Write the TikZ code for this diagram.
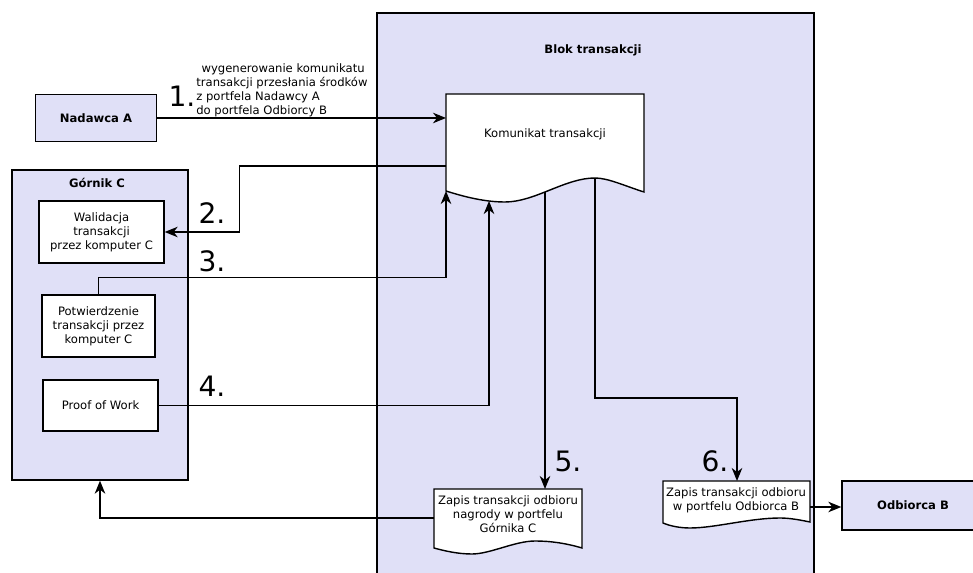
\documentclass[tikz,border=0pt]{standalone}
\usepackage{fontspec}
\setmainfont{DejaVu Sans}
\usepackage{tikz}
\usetikzlibrary{arrows.meta, calc}
\definecolor{lawenda}{RGB}{224,224,247}

\begin{document}
\begin{tikzpicture}[
  x=0.02cm, y=-0.02cm,
  font=\fontsize{6.6}{8}\selectfont,
  kontener/.style={
    draw, fill=lawenda, line width=0.8pt, inner sep=0pt
  },
  krok/.style={
    draw, fill=white, line width=0.8pt, align=center, inner sep=2pt
  },
  dokument/.style={draw, fill=white, line width=0.8pt},
  tytul/.style={font=\fontsize{6.6}{8}\selectfont\bfseries},
  numer/.style={font=\fontsize{16}{18}\selectfont, inner sep=0pt},
  strzalka/.style={
    arrows={-Stealth[length=2.6mm, width=2.1mm, inset=0.8mm]},
    line width=0.8pt
  }
]
\clip (0,0) rectangle (973,573);
\fill[white] (0,0) rectangle (973,573);

% ----- Kontenery -----
\node[kontener, minimum width=8.74cm, minimum height=11.74cm] (blk) at (595.5,306.5) {};
\node[tytul] (blkt) at (593,50) {Blok transakcji};

\node[kontener, minimum width=2.42cm, minimum height=0.94cm, tytul] (nad) at (96,118) {Nadawca A};

\node[kontener, minimum width=3.52cm, minimum height=6.2cm] (gor) at (100,325) {};
\node[tytul] (gort) at (97,183) {Górnik C};

\node[kontener, minimum width=2.84cm, minimum height=0.98cm, tytul] (odb) at (913,505.5) {Odbiorca B};

% ----- Kroki górnika -----
\node[krok, minimum width=2.5cm, minimum height=1.24cm] (wal) at (101.5,232)
  {Walidacja\\transakcji\\przez komputer C};
\node[krok, minimum width=2.26cm, minimum height=1.24cm] (pot) at (98.5,326)
  {Potwierdzenie\\transakcji przez\\komputer C};
\node[krok, minimum width=2.3cm, minimum height=1.02cm] (pow) at (100.5,405.5)
  {Proof of Work};

% ----- Dokumenty -----
\draw[dokument] (446,94) -- (644,94) -- (644,192)
  .. controls (625,186) and (608,178) .. (595,178)
  .. controls (565,178) and (535,202) .. (505,202)
  .. controls (485,202) and (465,197) .. (446,191) -- cycle;
\coordinate (kom nw) at (446,94);
\coordinate (kom sw) at (446,191);
\coordinate (kom out) at (446,166);
\coordinate (kom p4) at (489,201);
\coordinate (kom p5) at (545,192);
\coordinate (kom p6) at (595,178);
\node (kom) at (545,134) {Komunikat transakcji};

\draw[dokument] (434,489) -- (582,489) -- (582,548)
  .. controls (565,543) and (550,541) .. (535,541)
  .. controls (515,541) and (490,554) .. (472,554)
  .. controls (458,554) and (445,551) .. (434,548) -- cycle;
\coordinate (zg nw) at (434,489);
\coordinate (zg out) at (434,518);
\node[align=center] (zg) at (508,514)
  {Zapis transakcji odbioru\\nagrody w portfelu\\Górnika C};

\draw[dokument] (663,481) -- (810,481) -- (810,522)
  .. controls (800,520) and (790,518) .. (780,518)
  .. controls (750,518) and (715,528) .. (690,528)
  .. controls (680,528) and (670,526) .. (663,523) -- cycle;
\coordinate (zo in) at (737,481);
\coordinate (zo out) at (810,507);
\node[align=center] (zo) at (736,500)
  {Zapis transakcji odbioru\\w portfelu Odbiorca B};

% ----- Połączenia -----
\draw[strzalka] (nad.east) -- (nad.east -| kom nw);
\draw[strzalka] (kom out) -| ($(wal.east)+(75,0)$) -- (wal.east);
\draw[strzalka] (pot.north) -- ++(0,-17) -| (kom sw);
\draw[strzalka] (pow.east) -| (kom p4);
\draw[strzalka] (kom p5) -- (kom p5 |- zg nw);
\draw[strzalka] (kom p6) |- ($(zo in)+(0,-83)$) -- (zo in);
\draw[strzalka] (zg out) -| (gor.south);
\draw[strzalka] (zo out) -- (zo out -| odb.west);

% ----- Numery kroków -----
\node[numer] (n1) at (182,96) {1.};
\node[numer] (n2) at (212,213) {2.};
\node[numer] (n3) at (212,261) {3.};
\node[numer] (n4) at (212,386) {4.};
\node[numer] (n5) at (568,461) {5.};
\node[numer] (n6) at (715,461) {6.};

\node[anchor=west, align=left, inner sep=0pt] (opis) at (196,90)
  {\hspace{3pt}wygenerowanie komunikatu\\transakcji przesłania środków\\z portfela Nadawcy A\\do portfela Odbiorcy B};

\end{tikzpicture}
\end{document}
